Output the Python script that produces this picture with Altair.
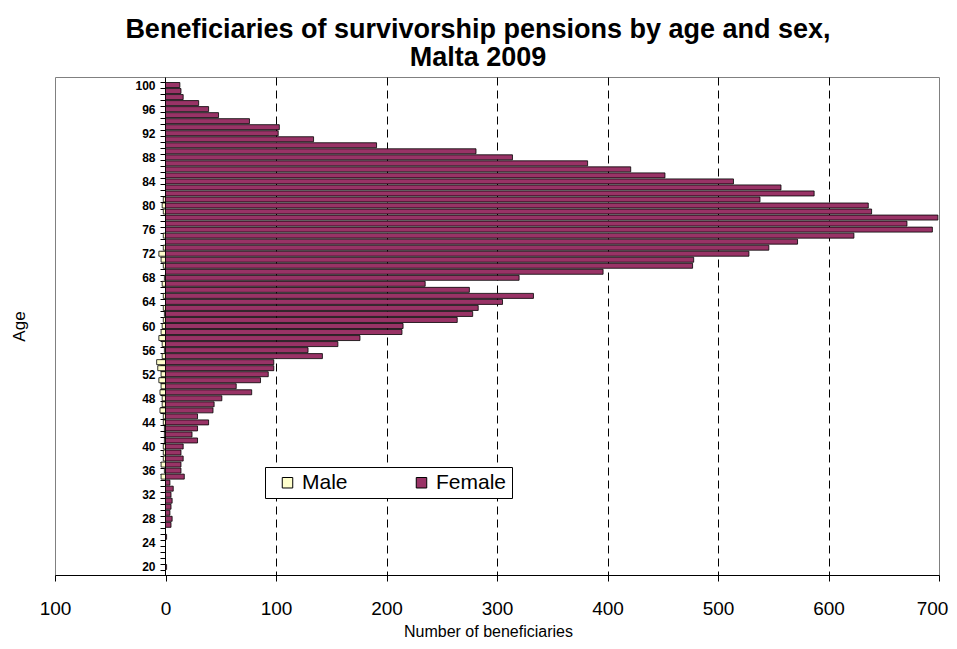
import altair as alt
import pandas as pd

ages = list(range(100, 19, -1))
female = [13, 14, 16, 30, 39, 48, 76, 103, 102, 134,
          191, 281, 314, 382, 421, 452, 514, 557, 587, 538,
          636, 639, 699, 671, 694, 623, 572, 546, 528, 478,
          477, 396, 320, 235, 275, 333, 305, 283, 278, 264,
          215, 214, 176, 156, 129, 142, 98, 98, 93, 86,
          64, 78, 51, 44, 43, 29, 39, 29, 24, 29,
          16, 14, 16, 14, 14, 17, 4, 7, 5, 6,
          5, 4, 6, 5, 0, 1, 0, 0, 0, 0,
          1]
male = [0, 0, 0, 0, 0, 0, 0, 0, 0, 0,
        0, 0, 0, 0, 0, 0, 0, 0, 0, 2,
        3, 2, 0, 0, 0, 2, 0, 2, 6, 4,
        2, 0, 1, 3, 0, 2, 0, 2, 1, 2,
        3, 4, 6, 3, 1, 3, 8, 7, 4, 6,
        4, 5, 3, 3, 5, 2, 2, 1, 1, 1,
        2, 2, 2, 4, 1, 4, 0, 0, 0, 0,
        0, 0, 0, 0, 0, 0, 0, 0, 0, 0,
        0]
sexes = ["Male", "Female"]
colors = ["#FFFFCC", "#993366"]
x_ticks = [-100, 0, 100, 200, 300, 400, 500, 600, 700]
age_labels = list(range(20, 101, 4))

rows = []
for a, m, f in zip(ages, male, female):
    rows.append({"Age": a, "Sex": "Male", "Count": m, "Signed": -m})
    rows.append({"Age": a, "Sex": "Female", "Count": f, "Signed": f})
df = pd.DataFrame(rows)

x_scale = alt.Scale(domain=[-100, 700], nice=False, zero=False)
y_scale = alt.Scale(domain=[19.5, 100.5], nice=False, zero=False)

grid_op = {"condition": {"test": "datum.value > 0 && datum.value < 700", "value": 1}, "value": 0}
last_label_shift = {"condition": {"test": "datum.value >= 700", "value": -7}, "value": 0}

x_axis = alt.Axis(values=x_ticks, labelExpr="abs(datum.value)", title="Number of beneficiaries",
                  grid=True, gridColor="black", gridDash=[8, 5], gridOpacity=grid_op,
                  domainColor="black", tickColor="black", tickSize=6, labelPadding=18,
                  labelFontSize=19, labelColor="black", labelOffset=last_label_shift,
                  titleFontSize=16, titleFontWeight="normal",
                  titleColor="black", titlePadding=5, titleX=433, labelFlush=False)

bars = alt.Chart(df).transform_filter("datum.Count > 0").mark_bar(
    orient="horizontal", size=5, stroke="black", strokeWidth=0.8
).encode(
    x=alt.X("Signed:Q", scale=x_scale, axis=x_axis),
    y=alt.Y("Age:Q", scale=y_scale,
            axis=alt.Axis(orient="left", offset=-110, values=age_labels, tickSize=0,
                          labelFontWeight="bold", labelFontSize=12, labelColor="black",
                          labelPadding=10, grid=False, domainColor="black", domainWidth=1,
                          title="Age", titleX=-137, titleFontSize=17, titleFontWeight="normal",
                          titleColor="black")),
    color=alt.Color("Sex:N", scale=alt.Scale(domain=sexes, range=colors),
                    legend=alt.Legend(orient="none", legendX=210, legendY=390, direction="horizontal",
                                      title=None, symbolType="square", symbolSize=110,
                                      symbolStrokeColor="black", symbolStrokeWidth=1,
                                      symbolOffset=7,
                                      labelFontSize=21, labelColor="black", columnPadding=56,
                                      padding=5, labelOffset=4, strokeColor="black", fillColor="white",
                                      offset=0)),
)

minor = alt.Chart(df).mark_bar(orient="horizontal", size=5, opacity=0).encode(
    x=alt.X("Signed:Q", scale=x_scale, axis=x_axis),
    y=alt.Y("Age:Q", scale=y_scale,
            axis=alt.Axis(orient="left", offset=-110, values=[a + 0.5 for a in range(19, 101)],
                          labels=False, tickSize=5, tickColor="black", domain=False, title=None,
                          grid=False)),
)

chart = alt.layer(bars, minor).resolve_axis(y="independent").properties(
    width=884, height=498,
    title=alt.TitleParams(["Beneficiaries of survivorship pensions by age and sex,", "Malta 2009"],
                          fontSize=27, fontWeight="bold", anchor="middle", dx=-19, lineHeight=28,
                          offset=5, color="black"),
    autosize=alt.AutoSizeParams(type="none"),
    padding={"left": 47, "top": 69, "right": 10, "bottom": 66},
).configure(font="Liberation Sans").configure_view(stroke="#808080")

chart.save("out.html", embed_options={"renderer": "svg", "actions": False})
